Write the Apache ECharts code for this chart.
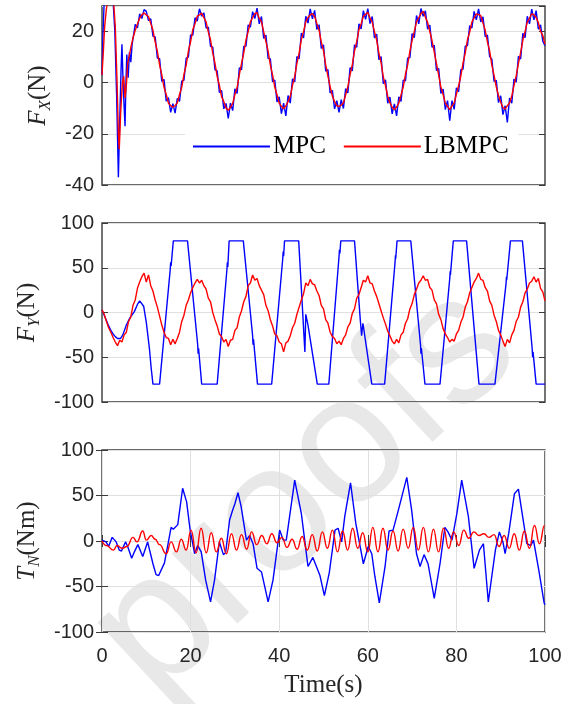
<!DOCTYPE html>
<html>
<head>
<meta charset="utf-8">
<script src="https://cdn.jsdelivr.net/npm/echarts@6/dist/echarts.min.js"></script>
<style>
  html, body { margin: 0; padding: 0; background: #fff; }
  #chart { width: 575px; height: 704px; }
</style>
</head>
<body>
<div id="chart"></div>
<script>
// ---- data ----
const step = 0.5          // sample spacing (s) of the regular arrays
const fxStart = 7         // regular Fx arrays start here

// Fx start-up transient, [time, value]
const fxMpcHead = [[0,3],[0.2,18],[0.5,32],[2.5,32],[2.9,20],[3.3,-5],[3.7,-37],[4.0,-15],[4.3,5],[4.5,15],[4.8,-2],[5.2,-17],[5.4,0],[5.6,11],[5.9,2],[6.2,12],[6.5,8],[6.8,15]]
const fxLbHead = [[0,3],[0.3,12],[0.6,22],[1.0,29],[1.3,32],[2.6,32],[3.0,22],[3.4,0],[3.7,-20],[3.9,-26],[4.2,-12],[4.6,0],[4.9,2.5],[5.2,-6],[5.5,-1],[5.8,7.5],[6.2,11],[6.6,14.5]]

// Fx from t = 7 s, every 0.5 s
const fxMpc = [15.2,22.8,21.4,26.9,25.1,28.6,27.9,24.3,25.0,18.2,17.9,9.6,9.4,0.5,1.3,-7.2,-5.8,-11.6,-8.2,-11.9,-6.1,-7.3,0.6,1.0,9.5,10.1,18.7,18.6,25.4,24.1,
  28.9,26.0,27.3,21.4,21.7,14.2,13.9,5.1,4.6,-3.8,-3.1,-10.2,-8.1,-14.0,-8.0,-10.9,-2.4,-4.2,5.8,5.1,14.2,14.3,22.6,21.7,27.8,25.1,29.2,23.0,25.9,17.3,
  18.6,9.5,9.3,0.4,1.0,-7.5,-5.5,-12.1,-8.0,-13.0,-5.0,-8.0,1.5,0.3,10.2,9.4,19.4,17.5,26.0,23.3,28.9,25.0,28.3,20.8,22.7,13.4,14.8,4.5,5.1,-4.0,
  -3.0,-10.2,-7.0,-11.6,-6.6,-10.1,-2.3,-4.0,5.9,4.6,14.8,13.9,23.0,21.0,28.2,24.8,29.0,23.1,25.9,17.5,19.0,9.0,10.2,-0.4,1.1,-8.0,-5.6,-12.2,-8.3,-13.0,
  -5.5,-7.3,1.0,0.7,9.6,9.8,19.2,17.6,26.3,23.0,29.0,26.0,28.1,20.9,22.5,13.9,14.6,4.8,5.5,-4.2,-2.5,-10.5,-7.0,-14.8,-7.0,-10.4,-2.0,-3.5,5.1,5.3,
  14.3,14.5,22.3,21.4,27.9,24.6,28.9,23.8,25.8,18.0,18.6,10.2,9.2,0.5,0.9,-7.8,-5.1,-12.5,-9.0,-15.5,-6.0,-8.0,1.4,0.2,10.3,9.3,19.3,17.6,26.0,23.0,
  28.8,24.6,28.2,20.9,22.6,16.2,14.5]
const fxLb = [17.5,20.5,23,25.2,26.6,27.3,26.5,25.9,23.2,20.6,16.0,12.3,7.0,3.1,-1.8,-4.6,-8.0,-8.9,-9.6,-9.0,-7.9,-4.6,-1.8,3.3,6.8,12.4,16.0,20.8,23.1,26.0,
  26.5,27.2,25.4,23.8,19.8,16.8,11.6,7.7,2.4,-1.0,-5.5,-7.4,-9.9,-10.8,-9.6,-8.1,-4.6,-1.9,3.2,7.6,11.7,16.8,20.0,23.9,25.4,27.0,27.4,25.2,23.9,19.9,
  16.1,12.4,6.9,3.1,-1.7,-4.7,-8.0,-9.2,-10.2,-9.1,-7.4,-5.3,-1.0,2.5,7.6,11.6,16.9,20.0,23.8,25.5,26.5,27.0,25.9,23.2,20.6,16.0,12.5,7.0,2.6,-1.5,
  -5.2,-7.4,-9.0,-9.3,-8.8,-7.9,-4.7,-1.6,3.2,7.0,12.4,16.1,20.8,23.1,26.0,26.8,27.5,25.4,23.7,20.0,16.7,11.6,7.8,2.3,-1.2,-5.3,-7.9,-9.6,-10.6,-9.5,
  -8.0,-4.8,-1.7,3.3,7.0,12.3,16.5,20.1,23.8,25.4,27.0,28.0,25.6,23.6,20.0,16.5,12.0,7.5,3.0,-1.8,-4.6,-8.0,-9.2,-10.5,-9.1,-7.9,-4.5,-1.2,2.6,7.8,
  11.6,16.9,19.8,23.8,25.3,26.9,26.6,26.2,23.3,20.6,16.0,12.5,6.9,2.9,-1.6,-5.0,-7.6,-9.7,-10.3,-9.0,-7.9,-5.2,-1.1,2.7,7.6,11.8,16.7,20.0,23.7,25.2,
  26.9,26.6,25.5,23.5,20.1,18.5,15.0]

// Fy MPC (saturating at +-80), [time, value]
const fyMpc = [[0,3],[0.5,-3],[1,-9],[1.5,-15],[2,-20],[2.5,-24],[3,-27],[3.5,-29],[4.2,-29],[4.7,-25],[5.5,-14],[6.3,-6],[7.3,1],[8,9],[8.5,13],[8.8,13],[9.4,7],[10,-11],[10.7,-40],[11.1,-62],[11.5,-80],
  [13,-80],[15.4,48],[15.5,56],[15.6,52],[16.1,80],[19.3,80],[21.6,-36],[21.7,-46],[21.8,-40],[22.5,-80],
  [26,-80],[28.2,48],[28.3,56],[28.4,51],[28.7,80],[31.9,80],[34.0,-26],[34.1,-36],[34.2,-30],[35.1,-80],
  [38.3,-80],[40.8,60],[40.9,68],[41,63],[41.2,80],[44.4,80],[45.8,-44],[46,-2],[46.5,-14],[48.6,-80],
  [51.2,-80],[53.5,62],[53.6,70],[53.7,66],[53.9,80],[57,80],[58.3,-8],[58.6,-26],[58.9,-12],[60.9,-80],
  [63.8,-80],[66.15,56],[66.25,64],[66.3,60],[66.6,80],[69.7,80],[71.9,-36],[72.0,-46],[72.1,-40],[72.9,-80],
  [76.3,-80],[78.5,38],[78.6,46],[78.65,42],[79.3,80],[82.3,80],[85.1,-80],
  [88.7,-80],[91.2,32],[91.3,40],[91.35,36],[92.2,80],[94.9,80],[97.1,-40],[97.2,-50],[97.3,-44],[98,-80],[100,-80]]

// Fy LBMPC from t = 0 s, every 0.5 s
const fyLb = [3,-2,-10,-17,-22,-28,-33,-37,-31,-33,-25,-22,-10,-5,8,14,27,34,40,44,34,42,30,24,14,6,-4,-14,-22,-28,
  -29,-36,-30,-35,-29,-22,-10,-3,8,14,22,28,33,37,33,36,30,26,16,12,0,-8,-15,-24,-27,-33,-30,-38,-31,-30,
  -20,-17,-5,2,12,18,30,33,42,36,38,30,25,20,8,2,-8,-15,-24,-26,-33,-35,-44,-34,-32,-26,-17,-12,-2,6,
  14,21,33,30,37,32,31,24,19,8,4,-8,-12,-22,-27,-29,-35,-32,-36,-29,-25,-16,-12,-1,4,16,20,28,36,34,
  41,33,32,24,18,10,2,-6,-13,-21,-26,-32,-35,-30,-34,-25,-22,-12,-7,4,10,20,26,33,36,41,36,37,28,25,
  14,10,-2,-8,-18,-24,-28,-33,-30,-32,-24,-20,-11,-5,6,12,22,28,34,38,44,37,36,28,24,13,8,-3,-10,-20,
  -25,-32,-38,-30,-34,-25,-20,-10,-5,6,12,22,26,33,35,40,34,38,27,23,13]

// Tn MPC, [time, value]
const tnMpc = [[0,1],[0.9,-1],[1.5,-6],[2.3,4],[3.2,-1],[3.9,-10],[4.4,-11],[5.3,-1],[5.8,-6],[6.7,-19],[7.3,-12],[8.1,-4],[9.2,-17],[10.3,-1],[11.5,-25],[12.2,-37],[12.8,-38],
  [14.1,-24],[14.8,-6],[15.6,15],[16.1,13],[17.1,18],[18.2,58],[19.1,43],[19.9,12],[20.9,-14],[21.6,-5],[22.4,-12],[23.4,-43],[24.5,-67],[25.4,-43],[26.5,-1],
  [27.4,-15],[27.9,-13],[28.8,23],[29.5,34],[30.0,41],[30.7,53],[31.4,38],[32.6,1],[33.3,6],[34.1,-3],[35.0,-30],[36.0,-34],[37.5,-67],[38.6,-43],[40.1,12],
  [40.9,1],[41.6,1],[43.5,67],[45.0,30],[46.5,-28],[47.6,-18],[49.2,-38],[50.2,-60],[51.3,-35],[52.6,12],[53.3,14],[54.1,-1],[54.8,27],[56.1,64],[57.3,19],
  [59.0,-25],[60.1,-6],[60.9,-14],[61.6,-39],[62.6,-68],[63.9,-28],[64.8,11],[65.7,12],[66.9,34],[68.8,70],[69.9,34],[71.0,-14],[71.8,-28],[72.7,-15],
  [73.6,-25],[75.0,-63],[76.3,-25],[77.4,15],[78.1,10],[79.0,1],[80.1,30],[81.2,67],[82.7,27],[84.0,-30],[85.2,-10],[86.1,-3],[87.2,-67],[88.8,-10],
  [89.7,10],[90.5,-1],[91.0,-14],[91.8,8],[93.1,52],[94.0,57],[95.2,19],[95.9,-3],[96.8,-5],[97.4,1],[98.6,-32],[99.8,-68],[100,-70]]

// Tn LBMPC peaks and troughs, [time, value]
const tnLb = [[0,0],[1.0,-5],[2.6,-10],[3.4,-5],[4.6,-8],[5.6,-6],[7.0,4],[7.9,-1],[9.2,11],[10.0,1],[11.1,6],[12.0,2],[13.0,-4],[14.5,-14],[15.6,-1],[16.8,-12],
  [17.9,2],[19.0,-10],[20.1,12],[21.24,-13],[22.38,14],[23.52,-13],[24.66,9],[25.8,-12],[26.94,3],[28.08,-14],[29.22,8],[30.36,-10],[31.5,7],[32.64,-9],
  [33.78,10],[34.92,-4],[36.06,6],[37.2,-3],[38.34,8],[39.48,-2],[40.62,4],[41.76,-7],[42.9,2],[44.04,-9],[45.18,5],[46.32,-10],[47.46,7],[48.6,-11],
  [49.74,10],[50.88,-8],[52.02,12],[53.16,-12],[54.3,11],[55.44,-10],[56.58,14],[57.72,-8],[58.86,9],[60.0,-12],[61.14,15],[62.28,-12],[63.42,14],
  [64.56,-10],[65.7,11],[66.84,-11],[67.98,13],[69.12,-8],[70.26,15],[71.4,-10],[72.54,15],[73.68,-12],[74.82,13],[75.96,-12],[77.1,14],[78.24,-8],
  [79.38,10],[80.52,-5],[81.66,12],[82.8,3],[83.94,10],[85.08,6],[86.22,8],[87.36,4],[88.5,7],[89.64,-6],[90.78,6],[91.92,-8],[93.06,8],[94.2,-10],
  [95.34,11],[96.48,-8],[97.62,17],[98.76,-3],[99.9,17],[100,17]]

const xTicks = { min: 0, max: 100, interval: 20 }
const seriesNames = ['MPC', 'LBMPC']

// ---- chart ----
const toPairs = (t0, vals) => vals.map((v, i) => [t0 + i * step, v])

const axisColor = '#3a3a3a'
const textColor = '#262626'
const gridColor = '#e0e0e0'
const sansFont = 'Liberation Sans, Arial, sans-serif'
const serifFont = 'Liberation Serif, Times New Roman, serif'
const blue = '#0000ff'
const red = '#ff0000'

const chart = echarts.init(document.getElementById('chart'), null, { renderer: 'canvas' })

const grids = [
  { left: 102, right: 30, top: 6, height: 179 },
  { left: 102, right: 30, top: 223, height: 179 },
  { left: 102, right: 30, top: 450, height: 182 }
].map(g => Object.assign(g, { show: true, borderColor: axisColor, borderWidth: 1.4, containLabel: false }))

const tick = { show: true, inside: true, length: 6, lineStyle: { color: axisColor, width: 1 } }

const yLabelName = (main, sub, unit) => '{i|' + main + '}{s|' + sub + '}{n|' + unit + '}'
const yNameStyle = {
  rich: {
    i: { fontFamily: serifFont, fontStyle: 'italic', fontSize: 25, lineHeight: 32, color: textColor },
    s: { fontFamily: serifFont, fontStyle: 'italic', fontSize: 17, verticalAlign: 'bottom', color: textColor },
    n: { fontFamily: serifFont, fontSize: 25, lineHeight: 32, color: textColor }
  }
}

const leftY = (gridIndex, min, max, interval, name, nameGap) => ({
  gridIndex, type: 'value', min, max, interval, position: 'left',
  axisLine: { show: false },
  axisTick: tick,
  axisLabel: { show: true, showMaxLabel: max % interval === 0, fontFamily: sansFont, fontSize: 20, color: textColor, margin: 8 },
  splitLine: { show: true, lineStyle: { color: gridColor, width: 1 } },
  name, nameLocation: 'middle', nameGap, nameRotate: 90, nameTextStyle: yNameStyle
})
const rightY = (gridIndex, min, max, interval) => ({
  gridIndex, type: 'value', min, max, interval, position: 'right',
  axisLine: { show: false }, axisTick: tick, axisLabel: { show: false }, splitLine: { show: false }
})
const plainX = (gridIndex) => Object.assign({
  gridIndex, type: 'value', axisLine: { show: false }, axisTick: { show: false },
  axisLabel: { show: false }, splitLine: { show: false }
}, xTicks)

const line = (name, color, xAxisIndex, yAxisIndex, data, extra) => Object.assign({
  name, type: 'line', xAxisIndex, yAxisIndex, data,
  showSymbol: false, symbol: 'none', sampling: null, clip: true,
  lineStyle: { color, width: 1.4 }, itemStyle: { color }, z: 3
}, extra || {})

chart.setOption({
  animation: false,
  backgroundColor: '#fff',
  grid: grids,
  // light "proofs" watermark behind everything
  graphic: [{
    type: 'text', x: 305, y: 492, rotation: 0.75, z: -1, silent: true,
    style: { text: 'proofs', fontFamily: sansFont, fontSize: 182, fill: '#e8e8e8', align: 'center', verticalAlign: 'middle' }
  }],
  legend: {
    data: seriesNames,
    left: 185, top: 128,
    padding: [6, 10, 6, 8],
    itemGap: 18, itemWidth: 77, itemHeight: 2, icon: 'rect',
    backgroundColor: '#fff',
    textStyle: { fontFamily: serifFont, fontSize: 25, color: '#000', padding: [0, 0, 0, -2] },
    z: 10
  },
  xAxis: [
    plainX(0),
    plainX(1),
    Object.assign({
      gridIndex: 2, type: 'value', position: 'bottom',
      axisLine: { show: false }, axisTick: tick,
      axisLabel: { fontFamily: sansFont, fontSize: 20, color: textColor, margin: 14 },
      splitLine: { show: true, lineStyle: { color: gridColor, width: 1 } },
      name: 'Time(s)', nameLocation: 'middle', nameGap: 41,
      nameTextStyle: { fontFamily: serifFont, fontSize: 25, color: textColor }
    }, xTicks),
    Object.assign({
      gridIndex: 2, type: 'value', position: 'top',
      axisLine: { show: false }, axisTick: tick, axisLabel: { show: false }, splitLine: { show: false }
    }, xTicks)
  ],
  yAxis: [
    leftY(0, -40, 30, 20, yLabelName('F', 'X', '(N)'), 46),
    rightY(0, -40, 30, 20),
    leftY(1, -100, 100, 50, yLabelName('F', 'Y', '(N)'), 59),
    rightY(1, -100, 100, 50),
    leftY(2, -100, 100, 50, yLabelName('T', 'N', '(Nm)'), 59),
    rightY(2, -100, 100, 50)
  ],
  series: [
    line('MPC', blue, 0, 0, fxMpcHead.concat(toPairs(fxStart, fxMpc))),
    line('LBMPC', red, 0, 0, fxLbHead.concat(toPairs(fxStart, fxLb))),
    line('MPC', blue, 1, 2, fyMpc),
    line('LBMPC', red, 1, 2, toPairs(0, fyLb)),
    line('MPC', blue, 2, 4, tnMpc),
    line('LBMPC', red, 2, 4, tnLb, { smooth: 0.5, smoothMonotone: 'x' })
  ]
})
</script>
</body>
</html>
